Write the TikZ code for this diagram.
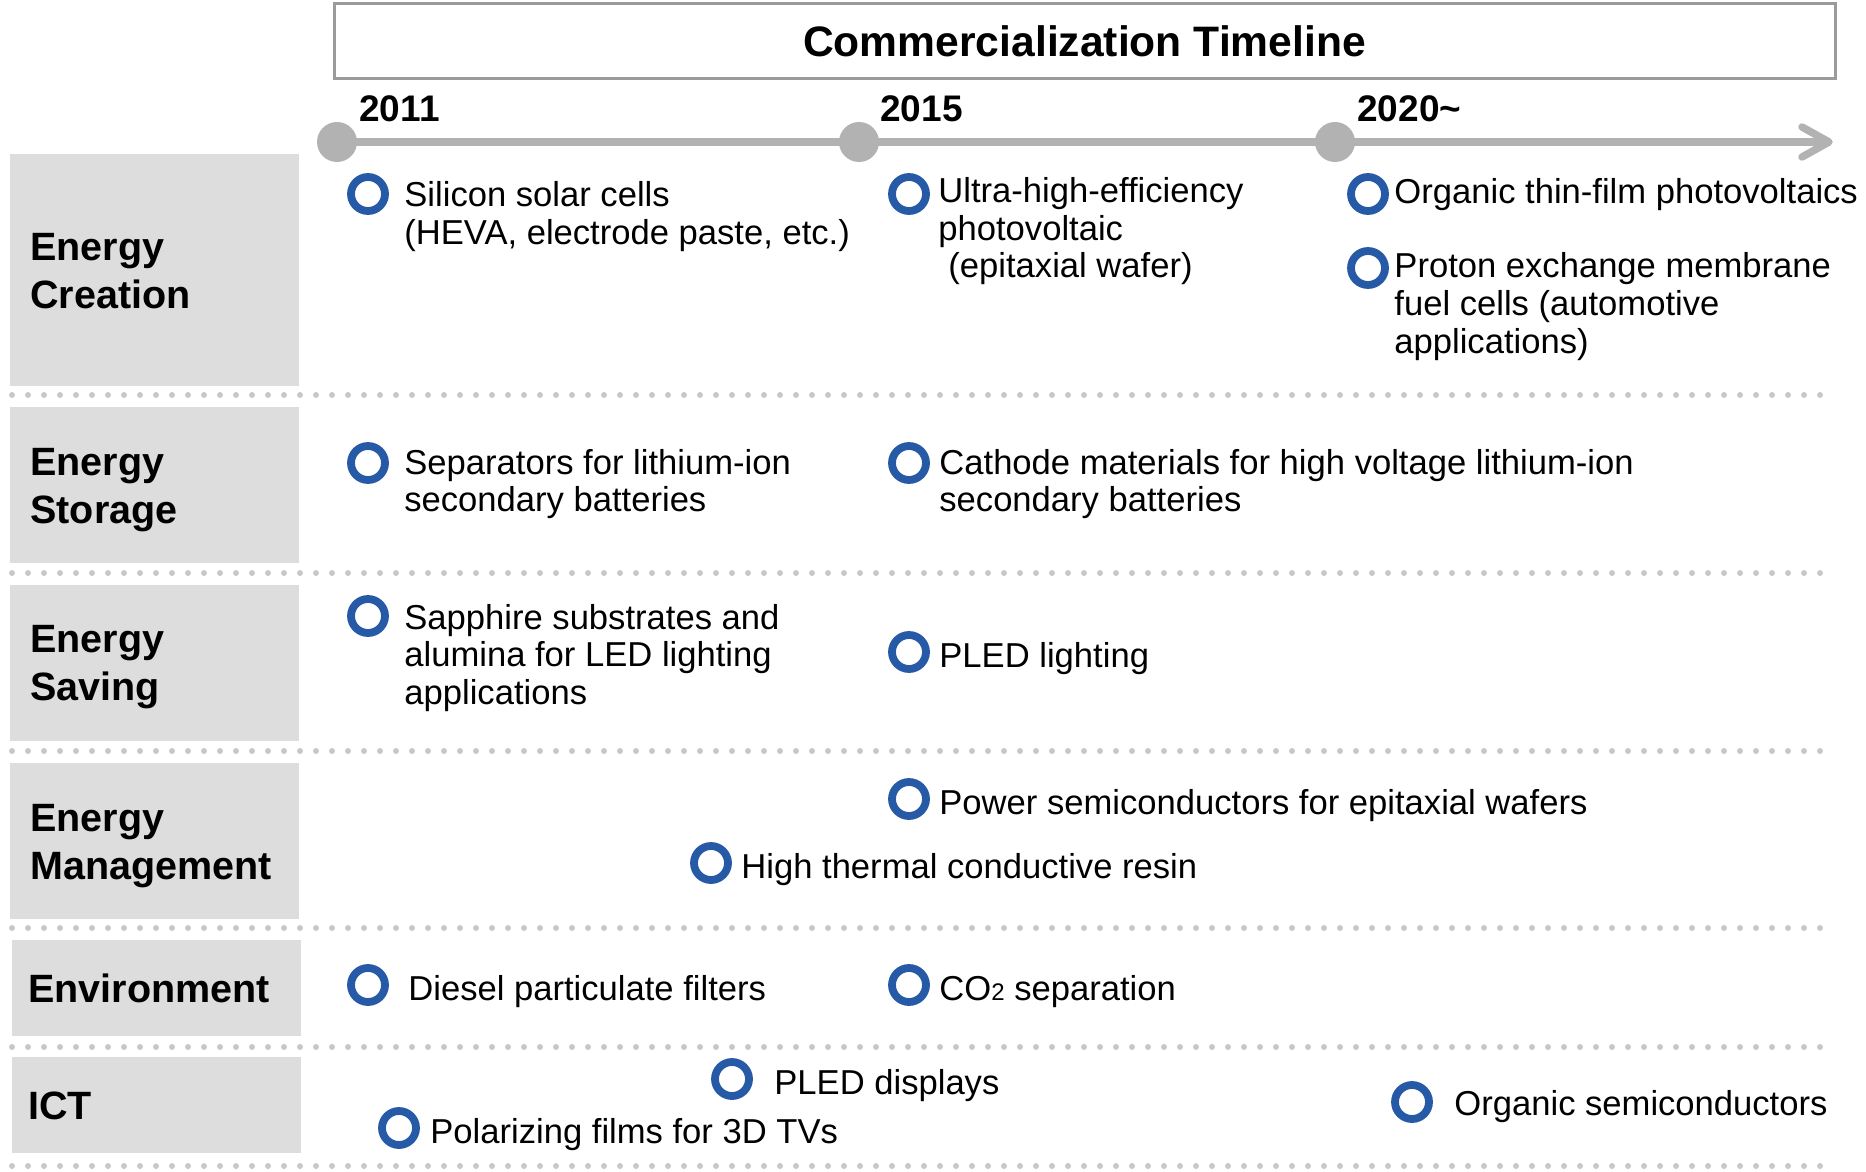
\documentclass[tikz,border=0pt]{standalone}
\usepackage{fontspec}
\setmainfont{Liberation Sans}
\usetikzlibrary{calc}
\definecolor{ringblue}{RGB}{38,89,166}
\definecolor{boxgray}{RGB}{221,221,221}
\definecolor{linegray}{RGB}{178,178,178}
\definecolor{dotgray}{RGB}{200,200,200}
\definecolor{framegray}{RGB}{155,155,155}
\begin{document}
\begin{tikzpicture}[x=0.5pt,y=-0.5pt,
  itemtext/.style={anchor=base west, inner sep=0pt, align=left, font=\fontsize{17.3}{18.75}\selectfont},
  cattext/.style={anchor=base west, inner sep=0pt, align=left, font=\fontsize{19.75}{24}\selectfont\bfseries},
  yeartext/.style={anchor=base west, inner sep=0pt, font=\fontsize{18.5}{22}\selectfont\bfseries},
  ring/.style={circle, draw=ringblue, line width=3.9pt, minimum size=17pt, inner sep=0pt},
  tdot/.style={circle, fill=linegray, minimum size=20pt, inner sep=0pt},
  catbox/.style={rectangle, fill=boxgray, inner sep=0pt, minimum width=144.5pt},
  sepline/.style={draw=dotgray, line width=3pt, line cap=round, dash pattern=on 0pt off 8pt},
  tline/.style={draw=linegray, line width=3.75pt},
  titlebox/.style={rectangle, draw=framegray, line width=1.5pt, minimum width=750.5pt, minimum height=37.5pt, inner sep=0pt, font=\fontsize{21.3}{25}\selectfont\bfseries}
]
\useasboundingbox (0,0) rectangle (1866,1171);

% title
\node[titlebox] (title) at (1084.5,41.5) {Commercialization Timeline};

% timeline
\coordinate (tend) at (1829,142);
\coordinate (armup) at (1802,127);
\coordinate (armdn) at (1802,157);
\coordinate (tstart) at (337,142);
\draw[tline] (tstart) -- (tend);
\draw[tline, line cap=round, line join=round] (armup) -- (tend) -- (armdn);
\node[tdot] (t2011) at (tstart) {};
\node[tdot] (t2015) at (859,142) {};
\node[tdot] (t2020) at (1335,142) {};
\node[yeartext] (y2011) at (359,122) {2011};
\node[yeartext] (y2015) at (880,122) {2015};
\node[yeartext] (y2020) at (1357,122) {2020\textasciitilde};

% category boxes
\node[catbox, minimum height=116pt] (bx1) at (154.5,270) {};
\node[catbox, minimum height=78pt] (bx2) at (154.5,485) {};
\node[catbox, minimum height=78pt] (bx3) at (154.5,663) {};
\node[catbox, minimum height=78pt] (bx4) at (154.5,841) {};
\node[catbox, minimum height=48pt] (bx5) at (156.5,988) {};
\node[catbox, minimum height=48pt] (bx6) at (156.5,1105) {};
% (base anchor = baseline of last line)
\node[cattext] (lb1) at (30,308) {Energy\\Creation};
\node[cattext] (lb2) at (30,523) {Energy\\Storage};
\node[cattext] (lb3) at (30,700) {Energy\\Saving};
\node[cattext] (lb4) at (30,879) {Energy\\Management};
\node[cattext] (lb5) at (28,1002) {Environment};
\node[cattext] (lb6) at (28,1119) {ICT};

% separators
\foreach \yy in {395,573,751,928,1047,1166}
  \draw[sepline] (12,\yy) -- (1822,\yy);

% items (base anchor = baseline of last line)
\node[ring] (r1) at (368,194) {};
\node[itemtext] (i1) at (404,244.5) {Silicon solar cells\\(HEVA, electrode paste, etc.)};
\node[ring] (r2) at (909,194) {};
\node[itemtext] (i2) at (938,278) {Ultra-high-efficiency\\photovoltaic\\\hspace*{5pt}(epitaxial wafer)};
\node[ring] (r3) at (1368,194) {};
\node[itemtext] (i3) at (1394,204) {Organic thin-film photovoltaics};
\node[ring] (r4) at (1368,268) {};
\node[itemtext] (i4) at (1394,353) {Proton exchange membrane\\fuel cells (automotive\\applications)};

\node[ring] (r5) at (368,463) {};
\node[itemtext] (i5) at (404,511.5) {Separators for lithium-ion\\secondary batteries};
\node[ring] (r6) at (909,463) {};
\node[itemtext] (i6) at (939,511.5) {Cathode materials for high voltage lithium-ion\\secondary batteries};

\node[ring] (r7) at (368,616) {};
\node[itemtext] (i7) at (404,704) {Sapphire substrates and\\alumina for LED lighting\\applications};
\node[ring] (r8) at (909,652) {};
\node[itemtext] (i8) at (939,667) {PLED lighting};

\node[ring] (r9) at (909,799) {};
\node[itemtext] (i9) at (939,814) {Power semiconductors for epitaxial wafers};
\node[ring] (r10) at (711,863) {};
\node[itemtext] (i10) at (741,878) {High thermal conductive resin};

\node[ring] (r11) at (368,985) {};
\node[itemtext] (i11) at (408,1000) {Diesel particulate filters};
\node[ring] (r12) at (909,985) {};
\node[itemtext] (i12) at (939,1000) {CO{\fontsize{12}{12}\selectfont 2} separation};

\node[ring] (r13) at (732,1079) {};
\node[itemtext] (i13) at (774,1094) {PLED displays};
\node[ring] (r14) at (399,1128) {};
\node[itemtext] (i14) at (430,1143) {Polarizing films for 3D TVs};
\node[ring] (r15) at (1412,1102) {};
\node[itemtext] (i15) at (1454,1115) {Organic semiconductors};
\end{tikzpicture}
\end{document}
